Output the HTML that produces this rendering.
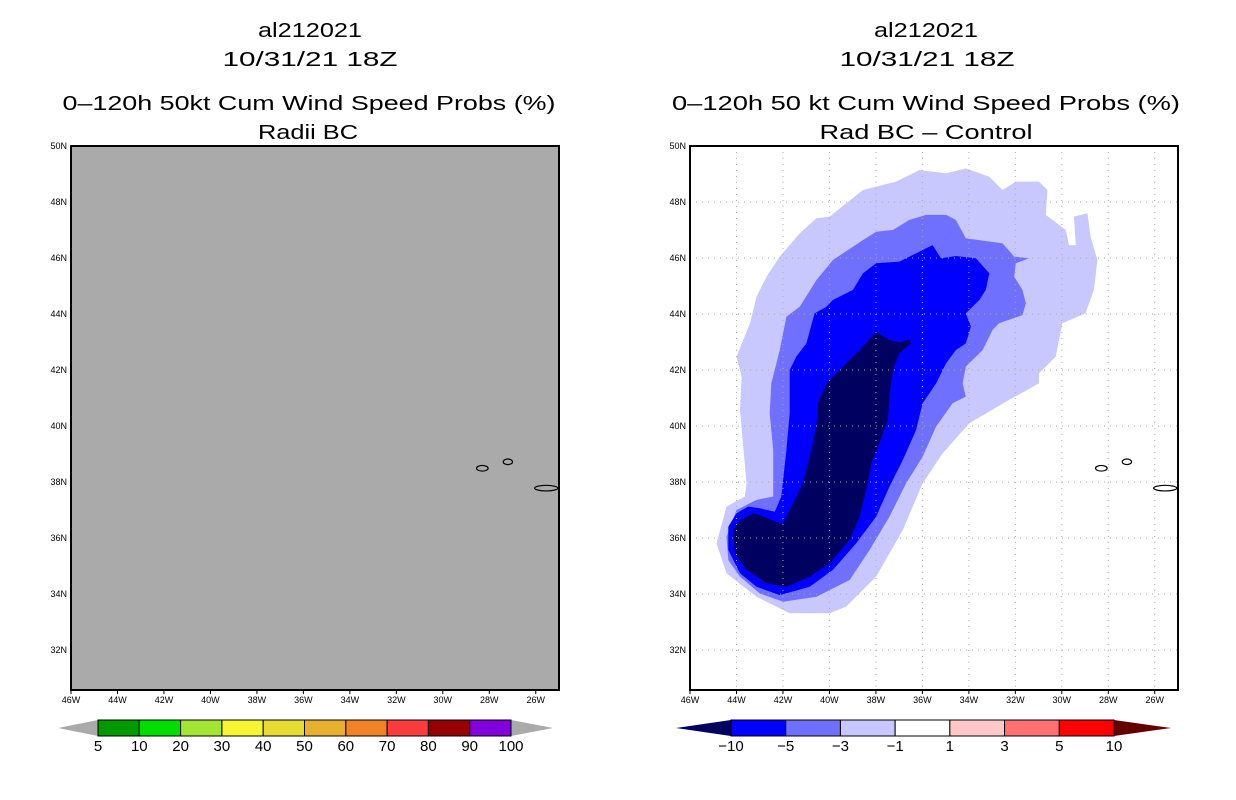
<!DOCTYPE html>
<html><head><meta charset="utf-8"><style>
html,body{margin:0;padding:0;background:#fff}
svg{display:block}
text{font-family:"Liberation Sans",sans-serif;fill:#000}
</style></head><body>
<svg id="fig" width="1236" height="800" viewBox="0 0 1236 800" xmlns="http://www.w3.org/2000/svg">
<g font-size="20" text-anchor="middle">
<text x="310" y="37" textLength="104" lengthAdjust="spacingAndGlyphs">al212021</text><text x="310" y="66" textLength="175" lengthAdjust="spacingAndGlyphs">10/31/21 18Z</text>
<text x="309" y="110" textLength="493" lengthAdjust="spacingAndGlyphs">0–120h 50kt Cum Wind Speed Probs (%)</text><text x="308" y="139" textLength="100" lengthAdjust="spacingAndGlyphs">Radii BC</text></g>
<g font-size="20" text-anchor="middle">
<text x="926" y="37" textLength="104" lengthAdjust="spacingAndGlyphs">al212021</text><text x="927" y="66" textLength="175" lengthAdjust="spacingAndGlyphs">10/31/21 18Z</text>
<text x="926" y="110" textLength="508" lengthAdjust="spacingAndGlyphs">0–120h 50 kt Cum Wind Speed Probs (%)</text><text x="926" y="139" textLength="213" lengthAdjust="spacingAndGlyphs">Rad BC – Control</text></g>
<g id="left"></g>
<g id="right"></g>
<g id="cbl"></g>
<g id="cbr"></g>
</svg>
<script>
const NS="http://www.w3.org/2000/svg";
const lonTicks=[-46,-44,-42,-40,-38,-36,-34,-32,-30,-28,-26];
const latTicks=[32,34,36,38,40,42,44,46,48,50];
const lonMin=-46,lonMax=-25,latMin=30.57,latMax=50;
// contour polygons [lon,lat]
const diffM1=[[-44.86,35.81],[-44.43,37.12],[-43.64,37.48],[-43.57,37.95],[-43.85,40.57],[-43.78,41.76],[-44.0,42.48],[-43.42,43.67],[-43.14,44.62],[-42.71,45.33],[-42.14,46.05],[-41.28,46.88],[-40.56,47.42],[-39.99,47.48],[-38.56,48.43],[-37.13,48.73],[-36.13,49.14],[-34.98,49.02],[-34.13,49.2],[-33.12,48.9],[-32.55,48.43],[-31.98,48.73],[-30.98,48.73],[-30.62,48.43],[-30.69,47.54],[-29.83,47.0],[-29.69,46.46],[-29.4,46.46],[-29.48,47.48],[-28.9,47.6],[-28.76,46.76],[-28.47,45.93],[-28.62,44.86],[-28.98,44.02],[-29.98,43.67],[-30.26,42.48],[-30.98,41.88],[-30.98,41.52],[-32.27,40.93],[-33.98,40.1],[-35.13,39.02],[-35.99,37.95],[-36.84,36.29],[-37.99,34.62],[-39.28,33.55],[-39.99,33.31],[-41.71,33.31],[-43.14,33.9],[-44.43,34.74]];
const diffM3=[[-44.43,36.05],[-44.0,37.0],[-43.14,37.36],[-42.42,37.48],[-42.42,39.14],[-42.57,40.45],[-42.5,41.52],[-42.14,42.71],[-41.85,43.9],[-41.28,44.26],[-40.56,45.21],[-39.85,45.93],[-38.56,46.64],[-37.99,46.94],[-37.27,47.0],[-36.56,47.36],[-35.84,47.54],[-34.98,47.54],[-34.56,47.36],[-34.13,46.7],[-33.55,46.64],[-32.55,46.52],[-32.05,46.05],[-31.41,45.99],[-31.98,45.81],[-32.05,45.33],[-31.69,44.86],[-31.55,44.38],[-31.69,43.96],[-32.7,43.67],[-32.98,43.43],[-33.41,42.71],[-34.13,42.12],[-34.27,41.52],[-34.13,41.05],[-34.7,40.81],[-35.41,39.98],[-35.99,38.9],[-36.7,37.95],[-37.42,36.76],[-38.27,35.57],[-39.13,34.5],[-40.56,33.9],[-41.99,33.72],[-43.0,34.02],[-43.85,34.62],[-44.35,35.21]];
const diffM5=[[-44.35,36.4],[-44.0,36.88],[-43.5,37.12],[-43.0,37.06],[-42.35,36.94],[-42.07,37.48],[-41.85,39.14],[-41.71,40.45],[-41.71,42.0],[-41.42,42.48],[-40.99,42.95],[-40.64,44.02],[-40.13,44.26],[-39.85,44.5],[-38.99,44.86],[-38.56,45.45],[-37.99,45.81],[-36.99,45.87],[-36.56,46.05],[-35.56,46.46],[-35.2,45.99],[-34.56,46.07],[-33.7,45.99],[-33.12,45.45],[-33.27,44.86],[-33.55,44.5],[-34.13,44.02],[-33.91,43.55],[-34.13,42.95],[-34.56,42.71],[-34.98,42.24],[-35.41,41.52],[-35.99,40.81],[-36.27,39.86],[-36.84,38.79],[-37.42,37.83],[-37.99,36.76],[-38.85,35.81],[-39.85,34.86],[-40.85,34.26],[-42.14,33.96],[-43.14,34.26],[-43.85,34.74],[-44.35,35.57]];
const diffM10=[[-44.14,36.29],[-43.85,36.64],[-43.28,36.88],[-43.0,36.82],[-42.14,36.52],[-41.99,36.52],[-41.14,37.95],[-40.85,38.9],[-40.56,39.98],[-40.49,40.81],[-40.13,41.52],[-39.85,41.76],[-39.13,42.36],[-38.7,42.71],[-37.99,43.37],[-37.42,43.07],[-36.99,42.98],[-36.56,43.1],[-36.49,42.95],[-36.99,42.6],[-37.27,42.0],[-37.42,41.05],[-37.49,40.21],[-37.85,39.38],[-38.2,38.67],[-38.42,37.71],[-38.7,36.76],[-39.13,35.93],[-39.99,35.1],[-40.85,34.62],[-41.85,34.26],[-42.71,34.38],[-43.57,34.86],[-44.07,35.45]];
const islands=[[-28.3,38.49,0.25,0.1],[-27.2,38.72,0.2,0.1],[-25.55,37.78,0.5,0.1]];
const probLevels=["5","10","20","30","40","50","60","70","80","90","100"];
const probColors=["#009900","#00dd00","#a0e632","#f5f532","#e6dc32","#e6af2d","#f08228","#fa3c3c","#960000","#8200dc"];
const diffLevels=["−10","−5","−3","−1","1","3","5","10"];
const diffColors=["#0000ff","#7070ff","#c8c8ff","#ffffff","#ffc8c8","#ff7070","#ff0000"];

function mk(t,a,p){const e=document.createElementNS(NS,t);for(const k in a)e.setAttribute(k,a[k]);p.appendChild(e);return e;}
function panel(g,x0,filled){
  const W=488,top=146,bot=690;
  const X=lon=>x0+(lon-lonMin)*(W/(lonMax-lonMin));
  const Y=lat=>top+(latMax-lat)*((bot-top)/(latMax-latMin));
  const bg=mk('rect',{x:x0,y:top,width:W,height:bot-top,fill:filled?'#aaaaaa':'#ffffff'},g);
  
  
  if(!filled){
    const polys=[[diffM1,'#c8c8ff','contour-minus1'],[diffM3,'#7070ff','contour-minus3'],[diffM5,'#0000ff','contour-minus5'],[diffM10,'#000060','contour-minus10']];
    polys.forEach(([d,c,n])=>{
      const p=mk('polygon',{points:d.map(q=>X(q[0]).toFixed(1)+','+Y(q[1]).toFixed(1)).join(' '),fill:c},g);
      
      
    });
    lonTicks.slice(1).forEach(l=>{const ln=mk('line',{x1:X(l),x2:X(l),y1:top,y2:bot,stroke:'#aaa','stroke-dasharray':'1,5'},g);
      
      });
    latTicks.slice(0,-1).forEach(l=>{const ln=mk('line',{x1:x0,x2:x0+W,y1:Y(l),y2:Y(l),stroke:'#aaa','stroke-dasharray':'1,5'},g);
      
      });
  }
  islands.forEach(i=>{const e=mk('ellipse',{cx:X(i[0]),cy:Y(i[1]),rx:i[2]*W/(lonMax-lonMin),ry:i[3]*28,fill:'none',stroke:'#000','stroke-width':1.2},g);
    
    });
  const fr=mk('rect',{x:x0,y:top,width:W,height:bot-top,fill:'none',stroke:'#000','stroke-width':2},g);
  
  
  lonTicks.forEach(l=>{mk('line',{x1:X(l),x2:X(l),y1:bot,y2:bot+4,stroke:'#000'},g);
    const t=mk('text',{x:X(l),y:bot+13,'font-size':9,'text-anchor':'middle'},g);t.textContent=(-l)+'W';
    
    });
  latTicks.forEach(l=>{const t=mk('text',{x:x0-4,y:Y(l)+3,'font-size':9,'text-anchor':'end'},g);t.textContent=l+'N';
    
    });
}
panel(document.getElementById('left'),71,true);
panel(document.getElementById('right'),690,false);

function cbar(g,x0,x1,tl,tr,colors,labels,lc,rc){
  const y0=720,y1=736,n=colors.length,w=(x1-x0)/n;
  const a=mk('polygon',{points:`${tl},${(y0+y1)/2} ${x0},${y0} ${x0},${y1}`,fill:lc},g);
  
  
  const b=mk('polygon',{points:`${tr},${(y0+y1)/2} ${x1},${y0} ${x1},${y1}`,fill:rc},g);
  
  
  colors.forEach((c,i)=>{const r=mk('rect',{x:x0+i*w,y:y0,width:w,height:y1-y0,fill:c,stroke:'#000','stroke-width':1},g);
    
    });
  labels.forEach((s,i)=>{const t=mk('text',{x:x0+i*w,y:y1+15,'font-size':15,'text-anchor':'middle'},g);t.textContent=s;
    
    });
}
cbar(document.getElementById('cbl'),98,511,58,553,probColors,probLevels,'#aaaaaa','#aaaaaa');
cbar(document.getElementById('cbr'),731,1114,676,1171,diffColors,diffLevels,'#000060','#640000');
</script>
</body></html>
